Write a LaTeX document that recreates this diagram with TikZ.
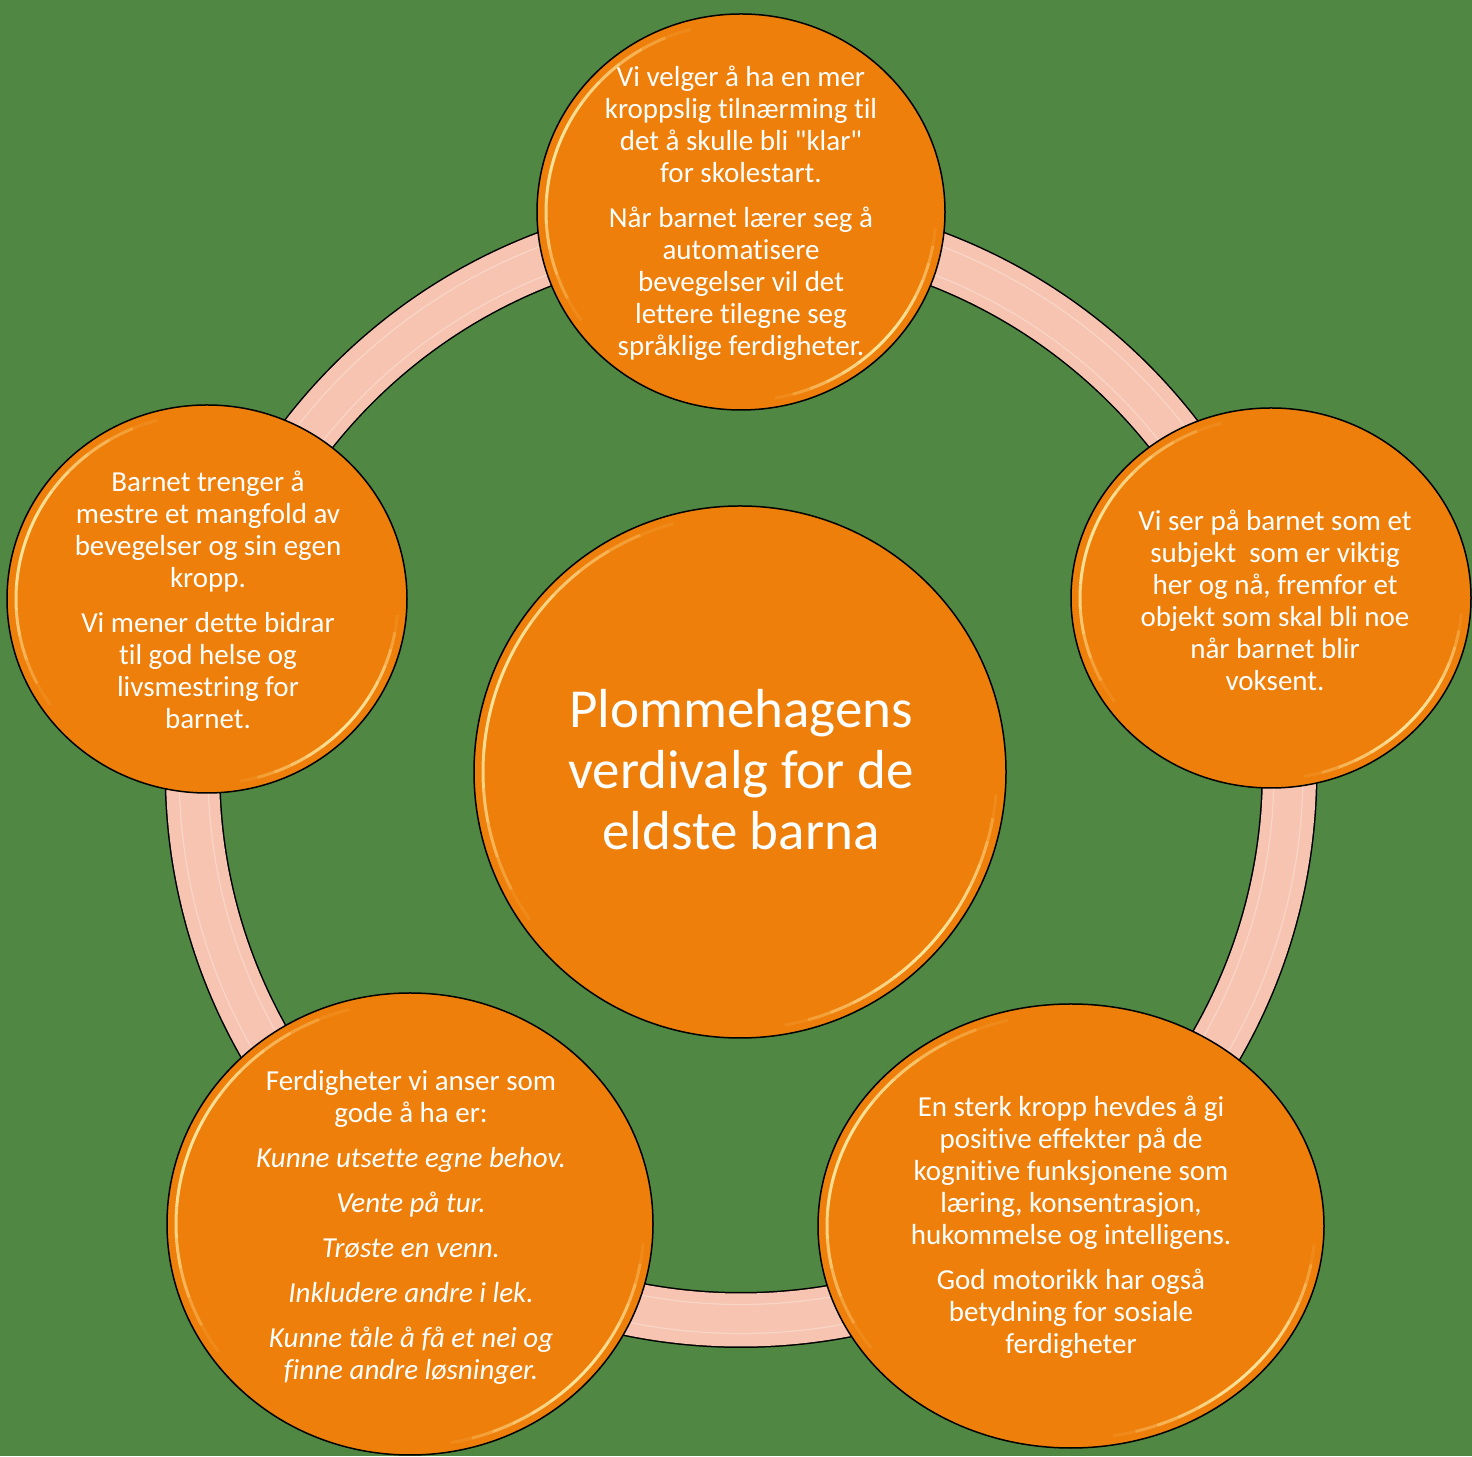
\documentclass[tikz,border=0pt]{standalone}
\usepackage{fontspec}
\setmainfont{Carlito}[Ligatures={NoCommon,TeXOff}]
\usetikzlibrary{shapes.geometric}
\definecolor{bggreen}{RGB}{79,135,67}
\definecolor{disc}{RGB}{238,127,10}
\definecolor{ringc}{RGB}{246,196,176}
\definecolor{gloss}{RGB}{255,238,170}
\newcommand{\glossarc}[6]{%
  \foreach \k in {0,...,13}{%
    \pgfmathsetmacro{\aa}{#5+(#6-#5)*\k/14}%
    \pgfmathsetmacro{\bb}{#5+(#6-#5)*(\k+1)/14}%
    \pgfmathsetmacro{\op}{0.9*sin(180*(\k+0.5)/14)}%
    \draw[gloss, line width=3pt, opacity=\op] (#1) ++(\aa:#3pt and #4pt) arc[start angle=\aa, end angle=\bb, x radius=#3pt, y radius=#4pt];
  }}
\begin{document}
\begin{tikzpicture}[x=1pt,y=1pt,
  disk/.style={ellipse, draw=black, line width=1.5pt, fill=disc, inner sep=0pt},
  txt/.style={text=white, align=center, inner sep=0pt, font=\fontsize{29}{32}\selectfont},
  hubtxt/.style={text=white, align=center, inner sep=0pt, font=\fontsize{55}{61}\selectfont},
  ringout/.style={draw=black, line width=56pt},
  ringin/.style={draw=ringc, line width=53pt},
  ringshine/.style={draw=white, line width=1.2pt, opacity=0.3}
]
\useasboundingbox (0,0) rectangle (1472,1456);
\fill[bggreen] (0,0) rectangle (1472,1456);

% ring connecting the five outer circles
\coordinate (o) at (741,684.5);
\draw[ringout] (o) circle[radius=548.5];
\draw[ringin] (o) circle[radius=548.5];
\draw[ringshine] (o) circle[radius=562];
\draw[ringshine] (o) circle[radius=533];

% discs
\node[disk, minimum width=532, minimum height=532] (hub) at (740,684) {};
\node[disk, minimum width=408, minimum height=396] (top) at (741,1244) {};
\node[disk, minimum width=400, minimum height=380] (right) at (1271,858) {};
\node[disk, minimum width=506, minimum height=444] (bright) at (1071,230) {};
\node[disk, minimum width=486, minimum height=462] (bleft) at (410,232) {};
\node[disk, minimum width=400, minimum height=388] (left) at (207,857) {};

% glossy rims
\glossarc{hub}{}{257}{257}{105}{215}
\glossarc{hub}{}{257}{257}{280}{355}
\glossarc{top}{}{195}{189}{105}{215}
\glossarc{top}{}{195}{189}{280}{355}
\glossarc{right}{}{191}{181}{105}{215}
\glossarc{right}{}{191}{181}{280}{355}
\glossarc{bright}{}{244}{213}{105}{215}
\glossarc{bright}{}{244}{213}{280}{355}
\glossarc{bleft}{}{234}{222}{105}{215}
\glossarc{bleft}{}{234}{222}{280}{355}
\glossarc{left}{}{191}{185}{105}{215}
\glossarc{left}{}{191}{185}{280}{355}

% texts
\node[hubtxt] (thub) at (741,686) {Plommehagens\\verdivalg for de\\eldste barna};

\node[txt] (ttop) at (741,1243) {Vi velger å ha en mer\\kroppslig tilnærming til\\det å skulle bli "klar"\\for skolestart.\\[13pt]Når barnet lærer seg å\\automatisere\\bevegelser vil det\\lettere tilegne seg\\språklige ferdigheter.};

\node[txt] (tright) at (1275,856) {Vi ser på barnet som et\\subjekt\ \ som er viktig\\her og nå, fremfor et\\objekt som skal bli noe\\når barnet blir\\voksent.};

\node[txt] (tleft) at (208,856) {Barnet trenger å\\mestre et mangfold av\\bevegelser og sin egen\\kropp.\\[13pt]Vi mener dette bidrar\\til god helse og\\livsmestring for\\barnet.};

\node[txt] (tbright) at (1071,229) {En sterk kropp hevdes å gi\\positive effekter på de\\kognitive funksjonene som\\læring, konsentrasjon,\\hukommelse og intelligens.\\[13pt]God motorikk har også\\betydning for sosiale\\ferdigheter};

\node[txt] (tbleft) at (411,229) {Ferdigheter vi anser som\\gode å ha er:\\[13pt]\textit{Kunne utsette egne behov.}\\[13pt]\textit{Vente på tur.}\\[13pt]\textit{Trøste en venn.}\\[13pt]\textit{Inkludere andre i lek.}\\[13pt]\textit{Kunne tåle å få et nei og}\\\textit{finne andre løsninger.}};
\end{tikzpicture}
\end{document}
